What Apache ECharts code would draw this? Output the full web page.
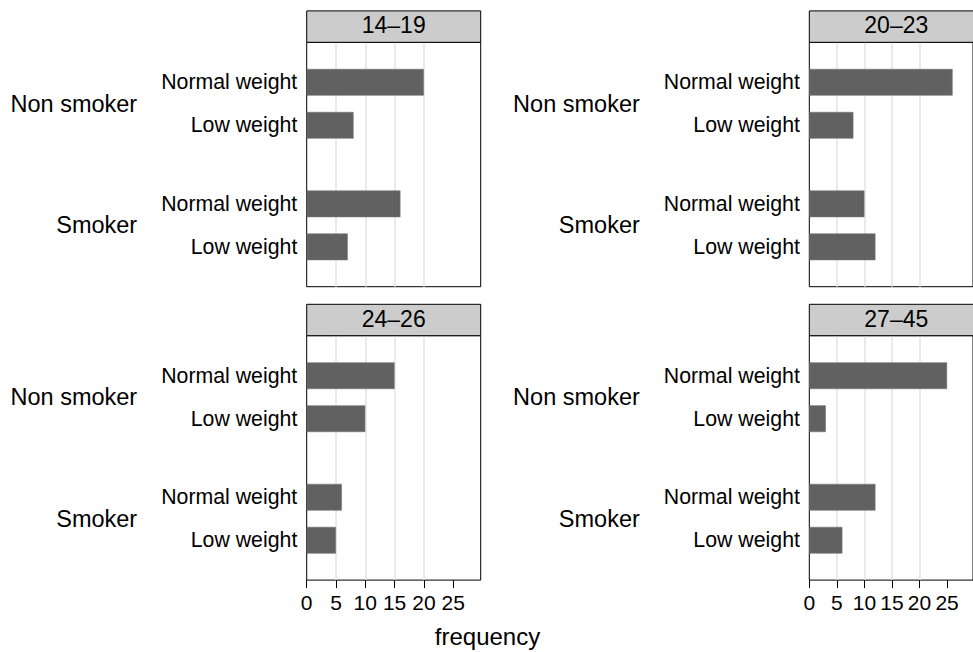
<!DOCTYPE html>
<html><head><meta charset="utf-8">
<script src="https://cdn.jsdelivr.net/npm/echarts@6/dist/echarts.min.js"></script>
<style>html,body{margin:0;padding:0;background:#fff}#c{width:973px;height:652px}</style>
</head><body><div id="c"></div>
<script>
// ---- data ----
const ageGroups = ['14–19', '20–23', '24–26', '27–45'];
const smokeGroups = ['Non smoker', 'Smoker'];
const weightCats = ['Normal weight', 'Low weight'];
const nonSmokerFreq = [[20, 8], [26, 8], [15, 10], [25, 3]];
const smokerFreq = [[16, 7], [10, 12], [6, 5], [12, 6]];
const xTicks = [0, 5, 10, 15, 20, 25];
const xMax = 29.7;
const xTitle = 'frequency';

// ---- layout ----
const FONT = '"Liberation Sans", Arial, Helvetica, sans-serif';
const FS = 21.3;
const FS_OUTER = 23.5;
const FS_STRIP = 23;
const FS_TITLE = 24;
const panelLeft = [306.7, 809.3, 306.7, 809.3];
const plotTop = [42.3, 42.3, 335.7, 335.7];
const isBottom = [false, false, true, true];
const stripH = 31.4;
const pw = 174, ph = 244.4;
const groupOffset = [18.5, 140.05];
const groupH = 86;

const grid = [], xAxis = [], yAxis = [], series = [], graphic = [];
const groupData = [nonSmokerFreq, smokerFreq];

ageGroups.forEach((ag, i) => {
  // frame grid
  const fg = grid.length;
  grid.push({left: panelLeft[i], top: plotTop[i], width: pw, height: ph, show: true,
    borderColor: '#000', borderWidth: 1, backgroundColor: 'transparent'});
  xAxis.push({type: 'value', gridIndex: fg, min: 0, max: xMax, interval: 5,
    axisLine: {show: false},
    axisTick: {show: isBottom[i], length: 8, customValues: xTicks, lineStyle: {color: '#000', width: 1}},
    axisLabel: {show: isBottom[i], customValues: xTicks, fontSize: 21, fontFamily: FONT, color: '#000', margin: 11.5},
    splitLine: {show: true, showMinLine: false, showMaxLine: false, lineStyle: {color: '#e3e3e3', width: 1.5}}
  });
  yAxis.push({type: 'value', gridIndex: fg, min: 0, max: 1, show: false});

  smokeGroups.forEach((sg, j) => {
    const g = grid.length;
    grid.push({left: panelLeft[i], top: plotTop[i] + groupOffset[j], width: pw, height: groupH, show: false});
    const xi = xAxis.length;
    xAxis.push({type: 'value', gridIndex: g, min: 0, max: xMax, show: false});
    const yi = yAxis.length;
    yAxis.push({type: 'category', gridIndex: g, data: weightCats, inverse: true,
      axisLine: {show: false}, axisTick: {show: false}, splitLine: {show: false},
      axisLabel: {fontSize: FS, fontFamily: FONT, color: '#000', margin: 9.4}});
    yAxis.push({type: 'category', gridIndex: g, data: [sg], position: 'left',
      axisLine: {show: false}, axisTick: {show: false}, splitLine: {show: false},
      axisLabel: {fontSize: FS_OUTER, fontFamily: FONT, color: '#000', margin: 169.5}});
    series.push({type: 'bar', xAxisIndex: xi, yAxisIndex: yi, data: groupData[j][i],
      barWidth: 26.7, silent: true, animation: false,
      itemStyle: {color: '#616161', borderColor: '#767676', borderWidth: 0.6}});
  });

  // strip
  graphic.push({type: 'rect', z: 10, shape: {x: panelLeft[i], y: plotTop[i] - stripH, width: pw, height: stripH},
    style: {fill: '#cccccc', stroke: '#000', lineWidth: 1}});
  graphic.push({type: 'text', z: 11, x: panelLeft[i] + pw / 2, y: plotTop[i] - stripH / 2 - 1.2,
    style: {text: ag, fontSize: FS_STRIP, fontFamily: FONT, fill: '#000', align: 'center', verticalAlign: 'middle'}});
});

graphic.push({type: 'text', x: 487.5, y: 636,
  style: {text: xTitle, fontSize: FS_TITLE, fontFamily: FONT, fill: '#000', align: 'center', verticalAlign: 'middle'}});

const chart = echarts.init(document.getElementById('c'), null, {renderer: 'svg'});
chart.setOption({animation: false, backgroundColor: '#fff', grid, xAxis, yAxis, series, graphic});
</script>
</body></html>
